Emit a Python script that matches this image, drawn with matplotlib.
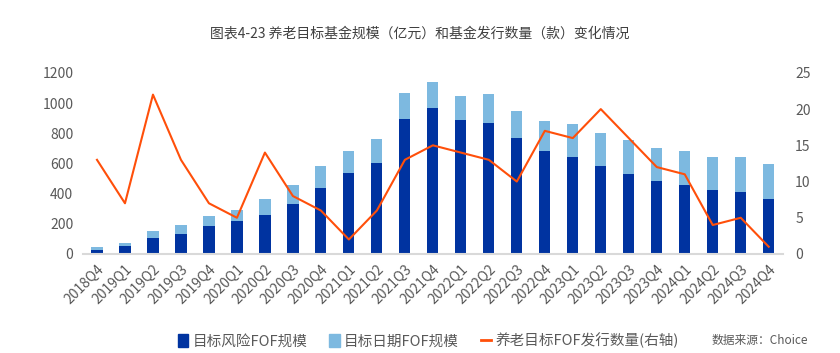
import numpy as np
import matplotlib
matplotlib.use("Agg")
import matplotlib.pyplot as plt
from matplotlib.patches import Patch
from matplotlib.lines import Line2D

plt.rcParams['font.family'] = ['Noto Sans CJK SC', 'DejaVu Sans']

# data
quarters = ['2018Q4', '2019Q1', '2019Q2', '2019Q3', '2019Q4', '2020Q1', '2020Q2', '2020Q3',
            '2020Q4', '2021Q1', '2021Q2', '2021Q3', '2021Q4', '2022Q1', '2022Q2', '2022Q3',
            '2022Q4', '2023Q1', '2023Q2', '2023Q3', '2023Q4', '2024Q1', '2024Q2', '2024Q3',
            '2024Q4']
risk_fof = [25, 50, 105, 130, 188, 220, 260, 330, 440, 535, 600, 895, 965, 890, 870, 770,
            685, 640, 585, 530, 485, 460, 425, 410, 365]
total_fof = [45, 75, 150, 192, 255, 290, 365, 455, 585, 685, 760, 1065, 1140, 1050, 1060, 945,
             880, 860, 800, 755, 705, 680, 645, 640, 595]
issue_count = [13, 7, 22, 13, 7, 5, 14, 8, 6, 2, 6, 13, 15, 14, 13, 10, 17, 16, 20, 16, 12, 11,
               4, 5, 1]
date_fof = [t - r for t, r in zip(total_fof, risk_fof)]

c_dark = '#0033A0'
c_light = '#7DB9E0'
c_line = '#FF4F0A'
c_text = '#595959'

fig = plt.figure(figsize=(8.4, 3.53), dpi=100)
ax = fig.add_axes([0.0988, 0.2805, 0.833, 0.513])
x = np.arange(len(quarters))
ax.bar(x, risk_fof, width=0.4, color=c_dark, zorder=2)
ax.bar(x, date_fof, width=0.4, bottom=risk_fof, color=c_light, zorder=2)
ax.set_xlim(-0.5, len(quarters) - 0.5)
ax.set_ylim(0, 1200)
ax.set_yticks(np.arange(0, 1201, 200))
ax.set_xticks(x)
ax.set_xticklabels(quarters, rotation=45, ha='right', rotation_mode='anchor')
ax.tick_params(axis='both', length=0, labelsize=10, colors=c_text)
ax.tick_params(axis='x', pad=6)
ax.tick_params(axis='y', pad=7)
for s in ['top', 'left', 'right']:
    ax.spines[s].set_visible(False)
ax.spines['bottom'].set_color('#D9D9D9')
ax.spines['bottom'].set_linewidth(1.5)

ax2 = ax.twinx()
ax2.plot(x, issue_count, color=c_line, linewidth=1.5, zorder=3)
ax2.set_ylim(0, 25)
ax2.set_yticks(np.arange(0, 26, 5))
ax2.tick_params(axis='y', length=0, labelsize=10, colors=c_text, pad=9)
for s in ['top', 'left', 'right', 'bottom']:
    ax2.spines[s].set_visible(False)

fig.text(0.5, 0.905, '图表4-23 养老目标基金规模（亿元）和基金发行数量（款）变化情况',
         ha='center', va='center', fontsize=10, color='#404040')

handles = [Patch(color=c_dark), Patch(color=c_light), Line2D([0], [0], color=c_line, linewidth=2)]
labels = ['目标风险FOF规模', '目标日期FOF规模', '养老目标FOF发行数量(右轴)']
fig.legend(handles, labels, loc='center', bbox_to_anchor=(0.51, 0.035), ncol=3, frameon=False,
           fontsize=10.5, labelcolor=c_text, handlelength=0.7, handleheight=0.9,
           handletextpad=0.3, columnspacing=1.5)
fig.text(0.962, 0.035, '数据来源：Choice', ha='right', va='center', fontsize=8.5, color=c_text)

fig.savefig('out.png', dpi=100)
